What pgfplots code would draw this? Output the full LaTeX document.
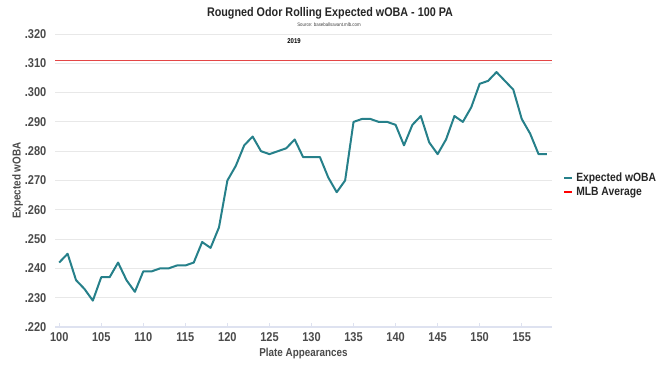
\documentclass[border=0pt]{standalone}
\usepackage{pgfplots}
\pgfplotsset{compat=1.18}
\usepackage{fontspec}
\setmainfont{Liberation Sans}[FakeStretch=0.86]
\definecolor{teal1}{RGB}{38,128,138}
\definecolor{tickc}{RGB}{74,74,74}
\definecolor{gridc}{RGB}{232,232,232}
\definecolor{axc}{RGB}{222,226,240}
\definecolor{mlb}{RGB}{228,70,70}
\begin{document}
\begin{tikzpicture}[x=0.75pt,y=0.75pt]
\path[use as bounding box] (0,0) rectangle (660,371);
\begin{axis}[
  at={(41.25pt,33pt)}, anchor=south west,
  scale only axis, width=372.75pt, height=219.75pt,
  xmin=99.5, xmax=158.6, ymin=0.22, ymax=0.32,
  /pgf/number format/assume math mode=true,
  xtick={100,105,...,155},
  ytick={0.22,0.23,0.24,0.25,0.26,0.27,0.28,0.29,0.30,0.31,0.32},
  yticklabels={.220,.230,.240,.250,.260,.270,.280,.290,.300,.310,.320},
  ymajorgrids, grid style={gridc, line width=0.6pt},
  axis x line*=bottom, axis y line*=left,
  y axis line style={draw=none},
  x axis line style={draw=axc, line width=0.8pt},
  ytick style={draw=none},
  xtick style={draw=axc, line width=0.6pt},
  major tick length=3pt,
  tick label style={font=\bfseries\fontsize{9.6}{10}\selectfont, text=tickc},
  yticklabel style={xshift=-3pt},
  xticklabel style={yshift=-1pt},
  xlabel={Plate Appearances}, ylabel={Expected wOBA},
  label style={font=\bfseries\fontsize{8.6}{9}\selectfont, text=tickc},
  xlabel style={yshift=2pt},
  ylabel style={yshift=-5.5pt},
  legend style={at={(1.022,0.485)}, anchor=west, draw=none, fill=none,
    font=\bfseries\fontsize{9}{11}\selectfont, text=black!85,
    row sep=-1pt, inner sep=0pt},
  legend cell align=left,
  legend image code/.code={\draw[#1, line width=1.8pt] (0pt,0pt) -- (6pt,0pt);},
  clip=false,
]
\addplot[teal1, line width=1.5pt, line join=round] coordinates {
(100,0.242)(101,0.245)(102,0.236)(103,0.233)(104,0.229)(105,0.237)(106,0.237)(107,0.242)(108,0.236)(109,0.232)
(110,0.239)(111,0.239)(112,0.240)(113,0.240)(114,0.241)(115,0.241)(116,0.242)(117,0.249)(118,0.247)(119,0.254)
(120,0.270)(121,0.275)(122,0.282)(123,0.285)(124,0.280)(125,0.279)(126,0.280)(127,0.281)(128,0.284)(129,0.278)
(130,0.278)(131,0.278)(132,0.271)(133,0.266)(134,0.270)(135,0.290)(136,0.291)(137,0.291)(138,0.290)(139,0.290)
(140,0.289)(141,0.282)(142,0.289)(143,0.292)(144,0.283)(145,0.279)(146,0.284)(147,0.292)(148,0.290)(149,0.295)
(150,0.303)(151,0.304)(152,0.307)(153,0.304)(154,0.301)(155,0.291)(156,0.286)(157,0.279)(158,0.279)};
\addlegendentry{Expected wOBA}
\addplot[mlb, line width=0.6pt, forget plot] coordinates {(99.5,0.311)(158.6,0.311)};
\addlegendimage{red, line width=1.8pt}
\addlegendentry{MLB Average}
\end{axis}
\node[font=\bfseries\fontsize{9.4}{10}\selectfont, text=black!85] at (330,358) {Rougned Odor Rolling Expected wOBA - 100 PA};
\node[font=\fontsize{3.8}{4}\selectfont, text=black!75] at (329,346) {Source: baseballsavant.mlb.com};
\node[font=\bfseries\fontsize{5.2}{6}\selectfont] at (294,330) {2019};
\end{tikzpicture}
\end{document}
